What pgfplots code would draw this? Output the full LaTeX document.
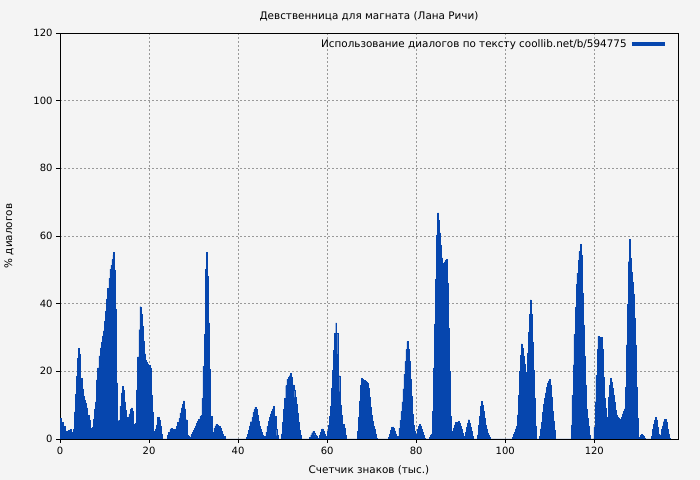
\documentclass[border=0pt]{standalone}
\usepackage{fontspec}
\setmainfont{DejaVu Sans}
\usepackage{pgfplots}
\pgfplotsset{compat=1.18}
\definecolor{bg}{HTML}{F4F4F4}
\definecolor{barblue}{HTML}{0646AE}
\definecolor{gridgray}{HTML}{999999}
\begin{document}
\begin{tikzpicture}[font=\fontsize{10.4bp}{12bp}\selectfont]
\fill[bg] (0,0) rectangle (700bp,480bp);
\node at (369bp,464bp) {Девственница для магната (Лана Ричи)};
\node[rotate=90] at (9bp,244bp) {\% диалогов};
\node at (369bp,10bp) {Счетчик знаков (тыс.)};
\begin{axis}[
  at={(60bp,41bp)}, anchor=south west,
  scale only axis, width=618bp, height=406bp,
  xmin=0, xmax=138.8, ymin=0, ymax=120,
  xtick={0,20,...,120}, ytick={0,20,...,120},
  tick pos=left, tick align=outside, major tick length=4bp,
  tick style={black, line width=0.8bp},
  axis line style={black, line width=0.9bp},
  grid=major,
  major grid style={gridgray, line width=0.8bp, dash pattern=on 2bp off 2bp},
  ticklabel style={font=\fontsize{10bp}{12bp}\selectfont},
  /pgf/number format/assume math mode=true,
  xticklabel style={yshift=-1bp},
  axis background/.style={fill=bg},
  legend plot pos=right,
  legend cell align=right,
  legend style={at={(rel axis cs:1,1)}, anchor=north east, xshift=-8bp, yshift=-2bp,
    draw=none, fill=none, font=\fontsize{10.4bp}{12bp}\selectfont},
  legend image code/.code={\path (-3bp,0bp); \draw[line width=4bp, barblue] (0bp,0bp) -- (33bp,0bp);},
]
\addplot[const plot, fill=barblue, draw=barblue, line width=0.4bp] coordinates {
(0,6.2) (0.37,4.9) (0.75,3.7) (1.12,2.2) (1.87,2.5) (2.24,2.8) (2.47,2.0) (2.77,1.0) (2.99,2.8) (3.22,8.0) (3.52,13.3) (3.74,18.5) (3.96,23.8) (4.11,26.8) (4.34,25.0) (4.64,18.0) (5.01,14.8) (5.24,12.6) (5.46,11.5) (5.76,10.5) (5.98,9.2) (6.21,6.9) (6.51,5.7) (6.73,3.2) (6.96,1.2) (7.25,3.4) (7.48,5.9) (7.70,8.7) (7.93,11.0) (8.15,17.5) (8.45,21.0) (8.75,24.6) (9.05,26.9) (9.27,28.6) (9.57,30.5) (9.80,32.0) (10.02,34.7) (10.25,37.8) (10.47,41.4) (10.70,44.5) (10.99,47.5) (11.22,50.2) (11.44,51.4) (11.67,53.0) (11.89,54.4) (12.04,55.2) (12.27,49.8) (12.49,38.4) (12.71,16.6) (12.94,5.4) (13.24,5.6) (13.46,9.7) (13.76,13.6) (13.99,15.6) (14.21,14.4) (14.44,11.0) (14.73,8.4) (14.96,6.1) (15.18,6.4) (15.48,7.4) (15.78,8.7) (16.01,9.2) (16.23,8.1) (16.53,4.4) (16.75,2.8) (16.98,4.6) (17.20,14.5) (17.43,24.3) (17.73,32.3) (17.95,39.1) (18.17,36.8) (18.47,33.3) (18.70,29.0) (18.92,25.2) (19.15,23.2) (19.45,22.7) (19.67,22.2) (19.90,21.7) (20.19,20.9) (20.49,13.0) (20.72,7.9) (21.02,2.3) (21.24,1.8) (21.47,3.0) (21.69,4.2) (21.91,6.4) (22.21,5.6) (22.44,3.9) (22.66,1.5) (22.96,0)
(24.16,1.0) (24.38,2.0) (24.68,2.8) (24.91,3.2) (25.21,2.8) (25.43,2.8) (25.65,2.5) (25.95,3.0) (26.18,3.7) (26.40,4.9) (26.70,6.1) (26.93,7.7) (27.2,9.2) (27.45,10.3) (27.7,11.3) (27.95,8.9) (28.2,5.7) (28.5,1.0) (28.8,0.8) (29.1,0.5) (29.4,1.3) (29.65,2.0) (29.9,2.5) (30.14,3.2) (30.36,3.9) (30.66,4.6) (30.88,5.2) (31.11,5.9) (31.41,6.6) (31.63,6.9) (31.86,12.0) (32.08,21.5) (32.38,31.0) (32.60,50.2) (32.90,55.2) (33.13,48.0) (33.35,34.3) (33.58,20.5) (33.80,6.7) (34.10,1.2) (34.32,2.0) (34.55,3.2) (34.77,3.9) (34.99,4.4) (35.30,4.1) (35.52,3.9) (35.75,3.7) (35.97,3.2) (36.27,2.3) (36.49,1.5) (36.72,0.8) (37.02,0)
(41.88,0.5) (42.10,1.3) (42.33,2.5) (42.55,3.9) (42.78,5.1) (43.08,6.4) (43.30,7.9) (43.52,8.7) (43.75,9.4) (43.97,8.7) (44.20,7.1) (44.50,5.4) (44.72,3.9) (44.95,2.8) (45.17,2.0) (45.47,1.2) (45.69,0.8) (45.99,0.5) (46.22,2.0) (46.44,3.7) (46.74,5.2) (46.96,6.4) (47.19,7.4) (47.49,8.1) (47.71,8.9) (47.94,9.7) (48.16,6.7) (48.46,3.0) (48.68,1.0) (48.98,0) (49.73,1.5) (49.96,4.9) (50.18,8.7) (50.41,12.0) (50.70,15.8) (50.93,17.7) (51.23,18.2) (51.45,18.7) (51.75,19.5) (51.98,18.2) (52.20,16.0) (52.50,14.3) (52.72,12.3) (52.95,10.3) (53.25,7.7) (53.47,4.9) (53.70,2.5) (53.92,1.2) (54.14,0)
(56.08,0.5) (56.31,1.2) (56.53,1.8) (56.76,2.2) (56.98,1.7) (57.21,1.2) (57.43,0.8) (57.73,0.3) (57.95,0.2) (58.18,1.0) (58.40,2.0) (58.63,2.8) (58.85,3.0) (59.08,2.2) (59.30,1.5) (59.52,0.8) (59.82,0.5) (60.05,2.3) (60.27,4.1) (60.50,6.7) (60.72,9.7) (60.95,15.0) (61.17,20.2) (61.39,26.1) (61.62,31.3) (61.92,34.3) (62.14,31.3) (62.37,25.1) (62.59,18.7) (62.82,14.0) (63.04,10.0) (63.26,6.9) (63.49,4.4) (63.79,3.2) (64.01,1.0) (64.24,0)
(66.85,2.2) (67.08,6.4) (67.30,11.3) (67.53,15.8) (67.75,18.0) (67.98,17.7) (68.20,17.4) (68.50,17.2) (68.72,16.9) (68.95,16.6) (69.17,15.0) (69.40,12.3) (69.62,9.4) (69.85,6.9) (70.07,5.4) (70.29,3.9) (70.52,2.8) (70.82,1.5) (71.04,0.2) (71.27,0)
(73.81,0.5) (74.03,1.5) (74.26,2.5) (74.48,3.4) (74.71,3.6) (74.93,3.2) (75.16,2.4) (75.38,1.5) (75.60,0.8) (75.90,0.8) (76.13,3.2) (76.35,5.6) (76.58,8.1) (76.80,11.0) (77.03,14.8) (77.25,19.2) (77.48,22.9) (77.70,26.4) (77.92,28.8) (78.15,26.6) (78.37,22.9) (78.60,17.7) (78.82,12.6) (79.05,7.4) (79.27,4.1) (79.49,2.2) (79.72,1.2) (80.02,1.5) (80.24,2.8) (80.47,3.7) (80.69,4.4) (80.92,3.9) (81.14,2.8) (81.36,2.0) (81.59,1.0) (81.89,0.2) (82.11,0)
(82.99,0.5) (83.22,1.0) (83.44,1.5) (83.67,8.1) (83.89,21.0) (84.12,34.0) (84.34,47.1) (84.56,60.1) (84.79,66.8) (85.01,64.7) (85.24,60.9) (85.46,57.3) (85.69,53.5) (85.91,52.0) (86.14,52.0) (86.36,52.4) (86.58,52.7) (86.81,53.0) (87.03,46.1) (87.26,32.7) (87.48,19.9) (87.71,6.6) (87.93,1.5) (88.15,2.3) (88.38,3.3) (88.60,4.2) (88.83,4.9) (89.05,4.9) (89.28,4.9) (89.50,5.2) (89.73,4.6) (89.95,3.7) (90.17,2.8) (90.40,1.7) (90.62,0.8) (90.85,0.5) (91.07,2.0) (91.30,3.4) (91.52,4.7) (91.74,5.7) (91.97,4.7) (92.19,3.4) (92.42,2.2) (92.64,0.8) (92.87,0)
(93.76,1.2) (93.99,4.1) (94.21,6.7) (94.44,9.7) (94.66,11.1) (94.89,9.9) (95.11,8.1) (95.33,6.1) (95.56,4.1) (95.78,3.0) (96.01,1.8) (96.23,1.0) (96.46,0.5) (96.68,0)
(101.54,0.5) (101.77,1.3) (101.99,2.0) (102.22,3.0) (102.44,3.7) (102.66,7.1) (102.89,13.0) (103.11,19.9) (103.34,24.8) (103.56,28.1) (103.79,26.8) (104.01,24.6) (104.24,22.2) (104.46,19.7) (104.68,19.2) (104.91,25.4) (105.13,31.5) (105.36,36.9) (105.58,41.1) (105.81,36.9) (106.03,28.6) (106.26,20.2) (106.48,12.0) (106.70,3.9) (106.93,0)
(107.60,0.8) (107.85,3.0) (108.05,5.0) (108.30,7.9) (108.52,10.3) (108.75,12.1) (108.97,13.6) (109.20,15.2) (109.42,16.5) (109.65,17.2) (109.85,17.7) (110.08,16.0) (110.30,12.3) (110.52,8.1) (110.75,5.4) (110.97,2.5) (111.19,0)
(114.77,4.1) (114.99,13.0) (115.22,21.9) (115.44,30.9) (115.67,38.9) (115.89,45.8) (116.11,49.0) (116.34,52.7) (116.56,55.4) (116.79,57.6) (117.01,54.2) (117.24,43.1) (117.46,33.7) (117.69,24.4) (117.91,16.0) (118.14,8.7) (118.36,6.1) (118.59,3.7) (118.81,1.2) (119.04,0)
(119.93,3.4) (120.16,11.0) (120.38,18.9) (120.61,26.6) (120.83,30.3) (121.06,30.0) (121.28,30.0) (121.51,30.0) (121.73,26.6) (121.96,18.2) (122.18,12.0) (122.41,9.0) (122.63,6.1) (122.86,6.4) (123.08,12.3) (123.31,15.8) (123.53,17.9) (123.76,16.9) (123.98,15.0) (124.20,12.8) (124.43,10.8) (124.65,8.4) (124.88,6.9) (125.10,6.4) (125.33,6.1) (125.55,5.9) (125.78,5.7) (126.00,6.4) (126.23,7.4) (126.45,8.1) (126.68,8.9) (126.90,15.3) (127.13,27.8) (127.35,39.9) (127.58,52.4) (127.80,59.1) (128.02,53.4) (128.25,49.3) (128.47,46.3) (128.70,42.9) (128.92,35.7) (129.15,27.8) (129.37,15.3) (129.60,6.1) (129.82,0) (130.05,0.5) (130.27,1.0) (130.50,1.3) (130.72,1.0) (130.95,0.7) (131.17,0.3) (131.40,0)
(132.74,0.8) (132.97,2.8) (133.19,4.4) (133.42,5.6) (133.64,6.4) (133.87,5.7) (134.09,3.4) (134.31,1.5) (134.54,0.5) (134.76,1.2) (134.99,2.8) (135.22,3.9) (135.44,5.1) (135.66,5.9) (135.89,5.9) (136.11,4.9) (136.34,2.8) (136.56,1.5) (136.79,0.3) (137.01,0)
} \closedcycle;
\addlegendentry{Использование диалогов по тексту coollib.net/b/594775}
\end{axis}
\end{tikzpicture}
\end{document}
